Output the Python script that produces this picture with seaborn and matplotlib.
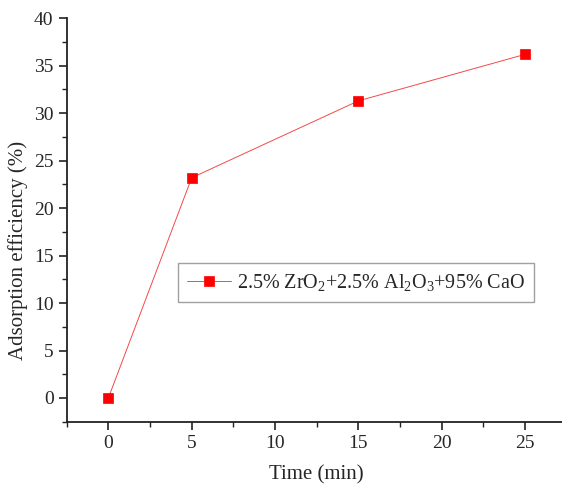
"""Adsorption efficiency vs time for the ZrO2/Al2O3/CaO sorbent."""

import matplotlib
matplotlib.use("Agg")
import matplotlib.pyplot as plt
import pandas as pd
import seaborn as sns
from matplotlib.ticker import MultipleLocator

time_min = [0, 5, 15, 25]
efficiency = [0.0, 23.2, 31.3, 36.2]
series_label = "2.5% ZrO$_2$+2.5% Al$_2$O$_3$+95% CaO"

sns.set_theme(style="ticks")
plt.rcParams['font.family'] = ['Liberation Serif', 'DejaVu Serif']
plt.rcParams['mathtext.fontset'] = 'custom'
plt.rcParams['mathtext.rm'] = 'Liberation Serif'
plt.rcParams['mathtext.it'] = 'Liberation Serif:italic'
plt.rcParams['mathtext.bf'] = 'Liberation Serif:bold'

df = pd.DataFrame({"Time": time_min, "Efficiency": efficiency})

fig = plt.figure(figsize=(5.62, 4.84), dpi=100)
ax = fig.add_axes([66.7 / 562, 62.3 / 484, 500 / 562, 403.4 / 484])

sns.lineplot(data=df, x="Time", y="Efficiency", ax=ax, color="red", linewidth=0.7,
             marker="s", markersize=6.5, markeredgecolor="red", markeredgewidth=0.5,
             label=series_label)
ax.get_lines()[0].set_color("#f24a4a")
ax.get_lines()[0].set_markerfacecolor("red")
ax.get_lines()[0].set_markeredgecolor("red")

ax.set_xlim(-2.5, 27.5)
ax.set_ylim(-2.5, 40)
ax.xaxis.set_major_locator(MultipleLocator(5))
ax.xaxis.set_minor_locator(MultipleLocator(2.5))
ax.yaxis.set_major_locator(MultipleLocator(5))
ax.yaxis.set_minor_locator(MultipleLocator(2.5))
ax.tick_params(which="major", direction="out", length=6, width=1.2, labelsize=14, color="#222222")
ax.tick_params(which="minor", direction="out", length=3.5, width=1.0, color="#222222")

for side in ("top", "right"):
    ax.spines[side].set_visible(False)
for side in ("left", "bottom"):
    ax.spines[side].set_linewidth(1.3)
    ax.spines[side].set_color("#222222")

ax.set_xlabel("Time (min)", fontsize=15, labelpad=9.5)
ax.set_ylabel("Adsorption efficiency (%)", fontsize=15)
# label anchor is the right edge of the rotated text; shifted down like the original
ax.yaxis.set_label_coords(-0.078, 0.4256)

leg = ax.legend(loc="upper left", bbox_to_anchor=(0.2226, 0.3934), borderaxespad=0,
                fontsize=14.5, frameon=True, fancybox=False, handlelength=2.2,
                borderpad=0.45, handletextpad=0.3)
leg.get_frame().set_edgecolor("#888888")
leg.get_frame().set_linewidth(1.0)
leg.get_lines()[0].set_color("#f24a4a")
leg.get_lines()[0].set_markerfacecolor("red")
leg.get_lines()[0].set_markeredgecolor("red")

fig.savefig("out.png", dpi=100)
